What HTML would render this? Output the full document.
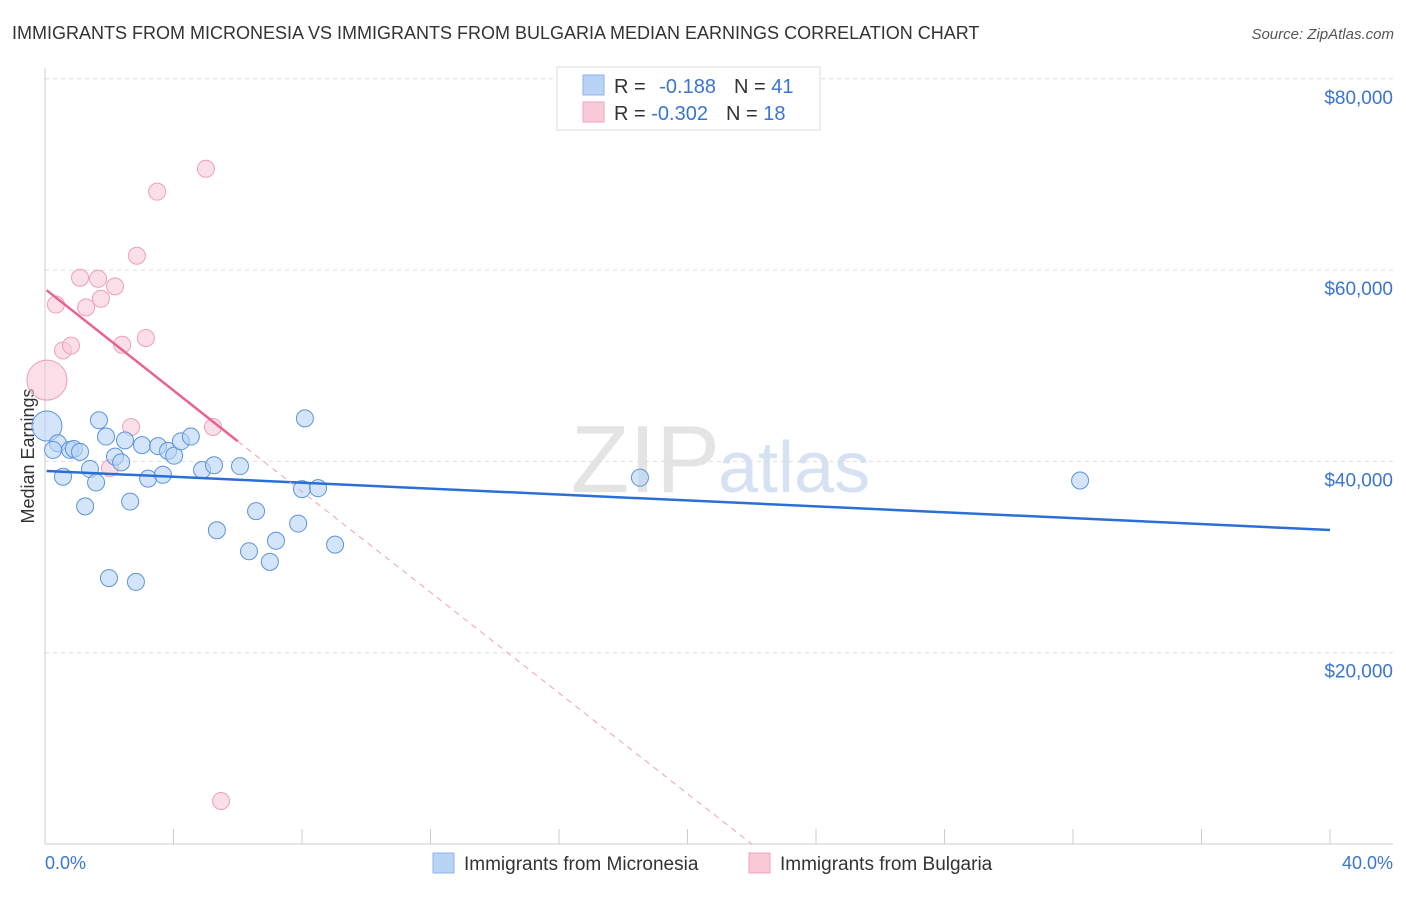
<!DOCTYPE html>
<html><head><meta charset="utf-8"><style>
body{margin:0;background:#fff;font-family:"Liberation Sans",sans-serif;}
svg text{font-family:"Liberation Sans",sans-serif;}
</style></head><body>
<svg id="c" width="1406" height="892" xmlns="http://www.w3.org/2000/svg">
<text x="12" y="39" font-size="18" fill="#333">IMMIGRANTS FROM MICRONESIA VS IMMIGRANTS FROM BULGARIA MEDIAN EARNINGS CORRELATION CHART</text>
<text x="1394" y="39" font-size="15" fill="#555" font-style="italic" text-anchor="end">Source: ZipAtlas.com</text>
<text x="720" y="492" font-size="96" fill="#e4e4e4" text-anchor="end" font-family="Liberation Serif">ZIP</text>
<text x="718" y="492" font-size="72" fill="#d6e2f3">atlas</text>
<g id="grid"></g>
<line x1="45" y1="68" x2="45" y2="844" stroke="#ccc"/>
<line x1="45" y1="844" x2="1393" y2="844" stroke="#ccc"/>
<g id="ticks"></g>
<text transform="translate(34,456) rotate(-90)" font-size="18" fill="#333" text-anchor="middle">Median Earnings</text>
<text x="45" y="869" font-size="18" fill="#3a75d1">0.0%</text>
<text x="1393" y="869" font-size="18" fill="#3a75d1" text-anchor="end">40.0%</text>
<g id="marks"></g>
<g>
<rect x="557" y="67" width="263" height="63" fill="#fff" stroke="#ddd"/>
<rect x="583" y="75" width="21" height="20" fill="#b9d3f5" stroke="#8fb3e6"/>
<rect x="583" y="102" width="21" height="20" fill="#f9cad8" stroke="#f0a4bb"/>
<text x="614" y="93" font-size="20" fill="#333">R = <tspan fill="#3a75d1" dx="8">-0.188</tspan><tspan dx="18" fill="#333">N = </tspan><tspan fill="#3a75d1">41</tspan></text>
<text x="614" y="120" font-size="20" fill="#333">R = <tspan fill="#3a75d1">-0.302</tspan><tspan dx="18" fill="#333">N = </tspan><tspan fill="#3a75d1">18</tspan></text>
</g>
<g>
<rect x="433" y="853" width="21" height="20" fill="#b9d3f5" stroke="#8fb3e6"/>
<text x="464" y="870" font-size="19" fill="#333">Immigrants from Micronesia</text>
<rect x="749" y="853" width="21" height="20" fill="#f9cad8" stroke="#f0a4bb"/>
<text x="780" y="870" font-size="19" fill="#333">Immigrants from Bulgaria</text>
</g>
</svg>
<script>
const yTicks=[20000,40000,60000,80000];
const yTickLabels=["$20,000","$40,000","$60,000","$80,000"];
const xTicks=[0,4,8,12,16,20,24,28,32,36,40];
const blueX=[0.06,0.40,0.25,0.78,0.90,1.09,0.56,1.40,1.59,1.25,1.68,1.90,2.18,2.37,2.49,2.65,1.99,2.83,3.02,3.21,3.52,3.67,3.83,4.02,4.23,4.54,4.89,5.26,5.35,6.07,6.35,6.57,7.00,7.19,7.88,8.00,8.09,8.50,9.03,18.52,32.22];
const blueY=[43700,41900,41200,41200,41300,41000,38400,39200,37800,35300,44300,42600,40500,39900,42200,35800,27800,27400,41700,38200,41600,38600,41100,40600,42100,42600,39100,39600,32800,39500,30600,34800,29500,31700,33500,37100,44500,37200,31300,38300,38000];
const blueBig=[0];
const pinkX=[0.06,0.34,0.56,0.81,1.09,1.28,1.65,1.74,2.18,2.40,2.86,3.14,2.02,2.68,3.49,5.01,5.23,5.48];
const pinkY=[48500,56400,51600,52100,59200,56100,59100,57000,58300,52200,61500,52900,39300,43600,68200,70600,43600,4500];
const pinkBig=[0];
const blueTrend=[39000,32830];
const pinkTrend=[57900,-2632];
const X=v=>45+v/40*1285;
const Y=v=>844-v/20000*191.3;
const NS="http://www.w3.org/2000/svg";
function mk(tag,attrs,parent){const e=document.createElementNS(NS,tag);for(const k in attrs)e.setAttribute(k,attrs[k]);document.getElementById(parent).appendChild(e);return e;}
yTicks.forEach((t,i)=>{
 const l=mk('line',{x1:45,x2:1393,y1:Y(t),y2:Y(t),stroke:'#ddd','stroke-dasharray':'4,4'},'grid');
 
 
 const tx=mk('text',{x:1393,y:Y(t)+25,'font-size':19,fill:'#3a75d1','text-anchor':'end'},'grid');
 tx.textContent=yTickLabels[i];
 
 
});
xTicks.forEach(t=>{
 const l=mk('line',{x1:X(t),x2:X(t),y1:829,y2:844,stroke:'#ccc'},'ticks');
 
 
});
function pts(xs,ys,big,fill,stroke,name){
 xs.forEach((x,i)=>{
  const c=mk('circle',{cx:X(x),cy:Y(ys[i]),r:big.includes(i)?(name==='pink-point'?20:15):8.5,fill:fill,'fill-opacity':0.6,stroke:stroke,'stroke-width':1},'marks');
  
  
 });
}
pts(pinkX,pinkY,pinkBig,'#f9cad8','#ee9fb7','pink-point');
pts(blueX,blueY,blueBig,'#b9d3f5','#5b93dc','blue-point');
const bl=mk('line',{x1:X(0.05),y1:Y(blueTrend[0]),x2:X(40),y2:Y(blueTrend[1]),stroke:'#2a6fd6','stroke-width':2.5},'marks');


const pz=-pinkTrend[0]/pinkTrend[1];
const pd=mk('line',{x1:X(6),y1:Y(pinkTrend[0]+pinkTrend[1]*6),x2:X(pz),y2:Y(0),stroke:'#eea0b8','stroke-width':1,'stroke-dasharray':'6,5'},'marks');


const pl=mk('line',{x1:X(0.05),y1:Y(pinkTrend[0]),x2:X(6),y2:Y(pinkTrend[0]+pinkTrend[1]*6),stroke:'#e8648f','stroke-width':2.5},'marks');


</script>
</body></html>
